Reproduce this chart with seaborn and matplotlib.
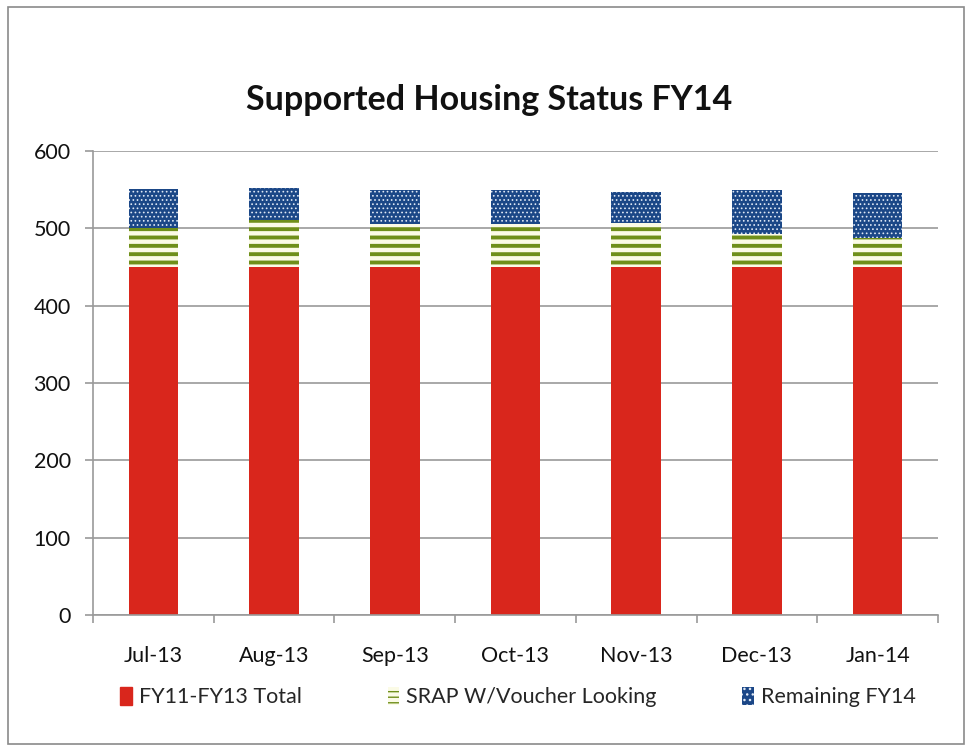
import pandas as pd
import matplotlib.pyplot as plt
import matplotlib as mpl
import seaborn as sns
from matplotlib.patches import Patch, Rectangle

# Values
months = ["Jul-13", "Aug-13", "Sep-13", "Oct-13", "Nov-13", "Dec-13", "Jan-14"]
fy11_fy13_total = [450, 450, 450, 450, 450, 450, 450]
srap_voucher = [51, 61, 55, 55, 57, 43, 38]
remaining_fy14 = [50, 41, 45, 45, 40, 57, 58]

df = pd.DataFrame({
    "Month": months,
    "FY11-FY13 Total": fy11_fy13_total,
    "SRAP W/Voucher Looking": srap_voucher,
    "Remaining FY14": remaining_fy14,
})
df["green_bottom"] = df["FY11-FY13 Total"]
df["blue_bottom"] = df["FY11-FY13 Total"] + df["SRAP W/Voucher Looking"]

sns.set_style("white")
plt.rcParams["font.family"] = ["Lato", "DejaVu Sans"]

red = "#d9261c"
green = "#6f8f1a"
blue = "#1b4787"
grid_col = "#9a9a9a"

fig = plt.figure(figsize=(9.68, 7.48), dpi=100)
ax = fig.add_axes([93 / 968, (748 - 615) / 748, (938 - 93) / 968, (615 - 151) / 748])

width = 0.41

# bottom segment
sns.barplot(data=df, x="Month", y="FY11-FY13 Total", color=red, width=width,
            saturation=1, linewidth=0, ax=ax)

# middle segment, horizontal stripes
with mpl.rc_context({"hatch.linewidth": 2.8}):
    sns.barplot(data=df, x="Month", y="SRAP W/Voucher Looking", bottom=df["green_bottom"].values,
                color="#fbfbe6", edgecolor=green, hatch="--", width=width,
                saturation=1, linewidth=0, ax=ax)

# top segment, dotted
with mpl.rc_context({"hatch.linewidth": 0.7}):
    sns.barplot(data=df, x="Month", y="Remaining FY14", bottom=df["blue_bottom"].values,
                color=blue, edgecolor="#dfe8f5", hatch="....", width=width,
                saturation=1, linewidth=0, ax=ax)

ax.set_ylim(0, 600)
ax.set_xlim(-0.5, len(months) - 0.5)
ax.set_yticks(range(0, 601, 100))
ax.yaxis.grid(True, color=grid_col, linewidth=1.2)
ax.set_axisbelow(True)
ax.set_xlabel("")
ax.set_ylabel("")

for s in ["top", "right"]:
    ax.spines[s].set_visible(False)
ax.spines["left"].set_color(grid_col)
ax.spines["bottom"].set_color(grid_col)
ax.spines["left"].set_linewidth(1.2)
ax.spines["bottom"].set_linewidth(1.2)

# Excel style ticks between categories
ax.set_xticks([i - 0.5 for i in range(len(months) + 1)], minor=True)
ax.tick_params(axis="x", which="major", length=0, labelsize=15.5, pad=22)
ax.tick_params(axis="x", which="minor", length=6, color=grid_col, width=1.2, direction="out", bottom=True)
ax.tick_params(axis="y", length=6, color=grid_col, width=1.2, labelsize=15.5, pad=10, left=True)
for lab in ax.get_xticklabels() + ax.get_yticklabels():
    lab.set_color("#111111")

fig.text(0.505, 0.866, "Supported Housing Status FY14", ha="center", va="center",
         fontsize=24.5, fontweight="bold", color="#111111")

with mpl.rc_context({"hatch.linewidth": 2.5}):
    handles = [
        Patch(facecolor=red, edgecolor=red, label="FY11-FY13 Total"),
        Patch(facecolor="#fbfbe6", edgecolor=green, hatch="---", linewidth=0, label="SRAP W/Voucher Looking"),
    ]
with mpl.rc_context({"hatch.linewidth": 0.7}):
    handles.append(Patch(facecolor=blue, edgecolor="#dfe8f5", hatch="...", linewidth=0, label="Remaining FY14"))
fig.legend(handles=handles, loc="center", bbox_to_anchor=(0.535, 0.068), ncol=3, frameon=False,
           fontsize=15.5, handlelength=0.55, handleheight=0.9, handletextpad=0.3, columnspacing=4.0)

fig.patches.append(Rectangle((0.008, 0.005), 0.988, 0.985, transform=fig.transFigure,
                             fill=False, edgecolor="#8a8a8a", linewidth=1.2))

plt.savefig("out.png", dpi=100)
